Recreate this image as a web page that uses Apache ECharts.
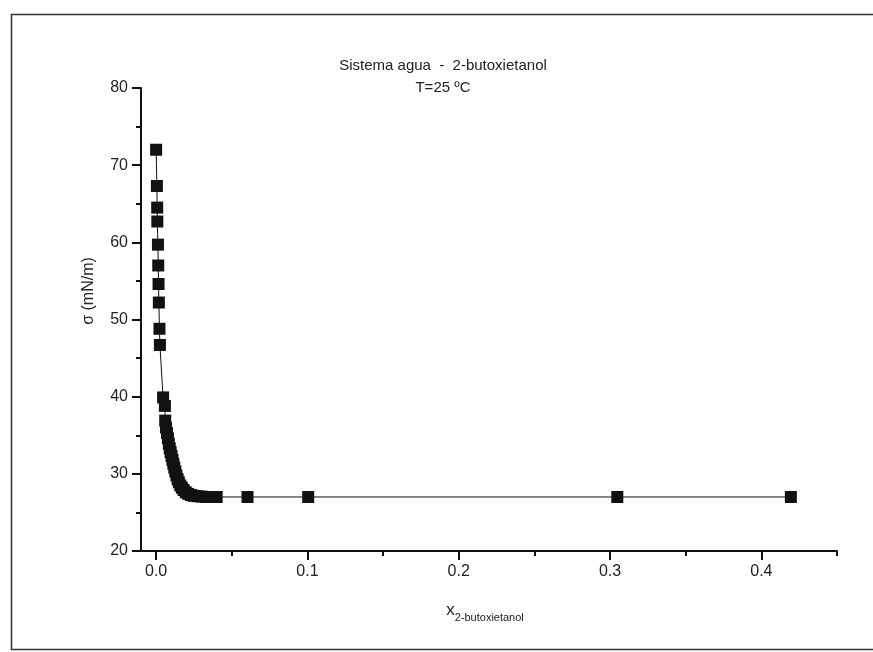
<!DOCTYPE html>
<html>
<head>
<meta charset="utf-8">
<script src="https://cdn.jsdelivr.net/npm/echarts@6/dist/echarts.min.js"></script>
<style>
html,body{margin:0;padding:0;background:#fff;}
#c{width:873px;height:652px;}
</style>
</head>
<body>
<div id="c"></div>
<script>
// Mole fraction of 2-butoxyethanol
const xValues = [0, 0.0005, 0.0007, 0.0008, 0.0012, 0.0014, 0.0016, 0.0018, 0.0022, 0.0025,
  0.0046, 0.0058, 0.0060,
  0.0065, 0.0072, 0.0078, 0.0084, 0.0090, 0.0096, 0.0102, 0.0108, 0.0114, 0.0120,
  0.0127, 0.0134, 0.0142, 0.0150, 0.0160, 0.0170, 0.0182, 0.0196, 0.0212, 0.0230,
  0.0250, 0.0275, 0.0300, 0.0330, 0.0360, 0.0400,
  0.0604, 0.1005, 0.3048, 0.4195];
// Surface tension (mN/m)
const sigmaValues = [72.0, 67.3, 64.5, 62.7, 59.7, 57.0, 54.6, 52.2, 48.8, 46.7,
  39.9, 38.8, 36.9,
  36.0, 35.3, 34.6, 33.9, 33.3, 32.8, 32.3, 31.8, 31.3, 30.8,
  30.3, 29.8, 29.3, 28.9, 28.5, 28.2, 27.9, 27.6, 27.4, 27.25,
  27.15, 27.1, 27.05, 27.0, 27.0, 27.0,
  27.0, 27.0, 27.0, 27.0];
const xMajorTicks = [0, 0.1, 0.2, 0.3, 0.4];
const xMinorTicks = [0.05, 0.15, 0.25, 0.35, 0.45];
const titleLine1 = 'Sistema agua  -  2-butoxietanol';
const titleLine2 = 'T=25 ºC';
const yAxisTitle = 'σ (mN/m)';

const chart = echarts.init(document.getElementById('c'));
const font = 'Liberation Sans, Arial, sans-serif';
chart.setOption({
  animation: false,
  backgroundColor: '#fff',
  graphic: [{
    type: 'rect', left: 9, top: 12, shape: {width: 880, height: 635},
    style: {fill: 'none', stroke: '#333', lineWidth: 1.5}, silent: true
  }, {
    type: 'text', x: 89, y: 291, rotation: Math.PI / 2,
    style: {text: yAxisTitle, fontFamily: font, fontSize: 16, fill: '#222', textAlign: 'center', textVerticalAlign: 'middle'},
    silent: true
  }],
  title: {
    text: titleLine1 + '\n' + titleLine2,
    left: 438, top: 50, textAlign: 'center',
    textStyle: {fontFamily: font, fontSize: 15, fontWeight: 'normal', color: '#222', lineHeight: 22, align: 'center'}
  },
  grid: {left: 141, top: 88, width: 696, height: 463, containLabel: false},
  xAxis: [{
    type: 'value', min: -0.01, max: 0.45,
    axisLine: {onZero: false, lineStyle: {color: '#111', width: 2}},
    axisTick: {length: 9, lineStyle: {color: '#111', width: 2}, customValues: xMajorTicks},
    axisLabel: {customValues: xMajorTicks, formatter: v => v.toFixed(1), fontFamily: font, fontSize: 16, color: '#222', margin: 13},
    splitLine: {show: false},
    name: '{x|x}{s|2-butoxietanol}',
    nameLocation: 'middle', nameGap: 47,
    nameTextStyle: {padding: [0, 8, 0, 0], rich: {
      x: {fontFamily: font, fontSize: 17, color: '#222'},
      s: {fontFamily: font, fontSize: 11, color: '#222', padding: [14, 0, 0, 0]}
    }}
  }, {
    type: 'value', min: -0.01, max: 0.45, gridIndex: 0, position: 'bottom',
    axisLine: {show: false, onZero: false},
    axisTick: {length: 5, lineStyle: {color: '#111', width: 2}, customValues: xMinorTicks},
    axisLabel: {show: false},
    splitLine: {show: false}
  }],
  yAxis: {
    type: 'value', min: 20, max: 80, interval: 10,
    axisLine: {show: true, onZero: false, lineStyle: {color: '#111', width: 2}},
    axisTick: {show: true, length: 9, lineStyle: {color: '#111', width: 2}},
    minorTick: {show: true, splitNumber: 2, length: 5, lineStyle: {color: '#111', width: 2}},
    axisLabel: {fontFamily: font, fontSize: 16, color: '#222', margin: 13},
    splitLine: {show: false}
  },
  series: [{
    type: 'line',
    data: xValues.map((x, i) => [x, sigmaValues[i]]),
    symbol: 'rect', symbolSize: 12,
    lineStyle: {color: '#111', width: 1},
    itemStyle: {color: '#111'}
  }]
});
</script>
</body>
</html>
